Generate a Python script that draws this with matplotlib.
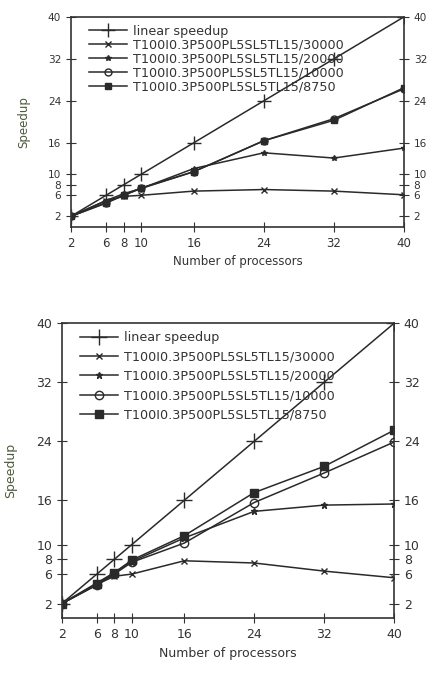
import matplotlib.pyplot as plt

# processor counts (x axis)
procs = [2, 6, 8, 10, 16, 24, 32, 40]
ticks_y = [2, 6, 8, 10, 16, 24, 32, 40]

labels = ["linear speedup",
          "T100I0.3P500PL5SL5TL15/30000",
          "T100I0.3P500PL5SL5TL15/20000",
          "T100I0.3P500PL5SL5TL15/10000",
          "T100I0.3P500PL5SL5TL15/8750"]

# top chart
top_linear = [2, 6, 8, 10, 16, 24, 32, 40]
top_30000 = [2, 5.0, 5.8, 6.0, 6.8, 7.1, 6.8, 6.1]
top_20000 = [2, 5.0, 6.3, 7.3, 11.1, 14.1, 13.1, 15.0]
top_10000 = [2, 4.6, 6.0, 7.3, 10.5, 16.4, 20.6, 26.3]
top_8750 = [2, 4.5, 6.0, 7.4, 10.5, 16.4, 20.3, 26.5]

# bottom chart
bot_linear = [2, 6, 8, 10, 16, 24, 32, 40]
bot_30000 = [2, 4.6, 5.7, 6.0, 7.8, 7.5, 6.4, 5.5]
bot_20000 = [2, 4.8, 6.2, 7.7, 10.9, 14.5, 15.35, 15.5]
bot_10000 = [2, 4.5, 6.0, 7.6, 10.2, 15.7, 19.7, 23.9]
bot_8750 = [2, 4.6, 6.2, 7.9, 11.2, 17.05, 20.6, 25.5]

markers = ['+', 'x', '*', 'o', 's']
fill = ['full', 'full', 'full', 'none', 'full']
txt = '#333333'


def draw(ax, series, xfs, yfs, lfs, gfs, spacing, msizes, ylpad):
    for s, lab, m, ms, f in zip(series, labels, markers, msizes, fill):
        ax.plot(procs, s, color='#2a2a2a', lw=1.1, marker=m, markersize=ms,
                fillstyle=f, markeredgewidth=1.0, label=lab)
    ax.set_xlim(2, 40)
    ax.set_ylim(0, 40)
    ax.set_xticks(procs)
    ax.set_yticks(ticks_y)
    ax.tick_params(direction='inout', length=7, colors=txt,
                   right=True, labelright=True, top=False)
    ax.tick_params(axis='x', labelsize=xfs)
    ax.tick_params(axis='y', labelsize=yfs)
    ax.set_xlabel("Number of processors", fontsize=lfs, color=txt)
    ax.set_ylabel("Speedup", fontsize=lfs, color='#4a5a3a', labelpad=ylpad)
    for sp in ax.spines.values():
        sp.set_color('#333333')
        sp.set_linewidth(1.2)
    ax.legend(loc='upper left', frameon=False, fontsize=gfs,
              handlelength=3.0, handletextpad=0.5, labelspacing=spacing,
              borderaxespad=0.2, labelcolor=txt, bbox_to_anchor=(0.03, 1.0))


fig = plt.figure(figsize=(4.33, 6.75), dpi=100)
ax1 = fig.add_axes([0.164, 0.664, 0.769, 0.311])
ax2 = fig.add_axes([0.143, 0.084, 0.767, 0.437])

draw(ax1, [top_linear, top_30000, top_20000, top_10000, top_8750],
     8.5, 7.6, 8.5, 9.2, 0.08, [10, 4, 4, 5, 5], 13)
draw(ax2, [bot_linear, bot_30000, bot_20000, bot_10000, bot_8750],
     9, 9, 9, 9.2, 0.5, [12, 5, 5, 6, 6], 14)

fig.savefig('out.png', dpi=100)
